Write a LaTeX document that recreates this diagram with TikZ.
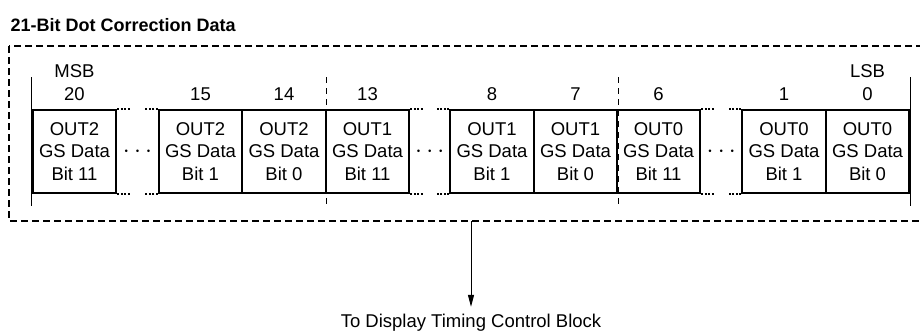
\documentclass[tikz,border=0pt]{standalone}
\usepackage{fontspec}
\setmainfont{Liberation Sans}
\usetikzlibrary{arrows.meta,calc}
\tikzset{bitbox/.style={draw, line width=1.8pt, minimum width=83.5pt, minimum height=83pt, inner sep=0pt, align=center, font=\fontsize{18.5}{22.5}\selectfont}}
\tikzset{bitnum/.style={font=\fontsize{18.5}{22.5}\selectfont}}
\tikzset{dotline/.style={line width=1.8pt, dash pattern=on 2pt off 1.6pt}}
\tikzset{tick/.style={line width=0.9pt}}
\tikzset{dtick/.style={tick, dash pattern=on 6pt off 5pt}}

\begin{document}
\begin{tikzpicture}[x=1pt, y=-1pt]
\useasboundingbox (0,0) rectangle (920,333);
\node [anchor=west, font=\fontsize{18}{22}\selectfont\bfseries] (title) at (7,25) {21-Bit Dot Correction Data};
\draw [line width=2pt, dash pattern=on 7pt off 4pt] (9,46) rectangle (940,221);
% the nine bit cells
\foreach \n/\x/\o/\b in {20/74.5/2/11,15/200.5/2/1,14/284/2/0,13/367.5/1/11,8/492/1/1,7/575.5/1/0,6/658.5/0/11,1/784/0/1,0/867.5/0/0} {
  \node [bitbox] (b\n) at (\x,151.5) {OUT\o\\GS Data\\Bit \b};
  \node [bitnum] (n\n) at (\x,94) {\n};
}
\node [bitnum] (msb) at (74.5,71) {MSB};
\node [bitnum] (lsb) at (867.5,71) {LSB};
% ticks at both ends and at the output borders
\draw [tick] ([yshift=32pt]b20.north west) -- ([yshift=-12pt]b20.south west);
\draw [tick] ([yshift=32pt]b0.north east) -- ([yshift=-12pt]b0.south east);
\draw [dtick] ([yshift=32pt]b14.north east) -- ([yshift=-12pt]b14.south east);
\draw [dtick] ([yshift=32pt]b7.north east) -- ([yshift=-12pt]b7.south east);
% skipped bits
\foreach \l/\r in {20/15,13/8,6/1} {
  \draw [dotline] (b\l.north east) -- ++(13,0);
  \draw [dotline] (b\r.north west) -- ++(-13,0);
  \draw [dotline] (b\l.south east) -- ++(13,0);
  \draw [dotline] (b\r.south west) -- ++(-13,0);
  \node [font=\fontsize{23}{23}\selectfont] (gap\l) at ($(b\l.east)!0.5!(b\r.west)$) {$\cdots$};
}
\coordinate (out) at (471,221);
\node [bitnum] (dest) at (471,323) {To Display Timing Control Block};
\draw [line width=1pt, -{Triangle[length=12pt,width=6pt]}] (out) -- ([yshift=4pt]dest.north);
\end{tikzpicture}
\end{document}
